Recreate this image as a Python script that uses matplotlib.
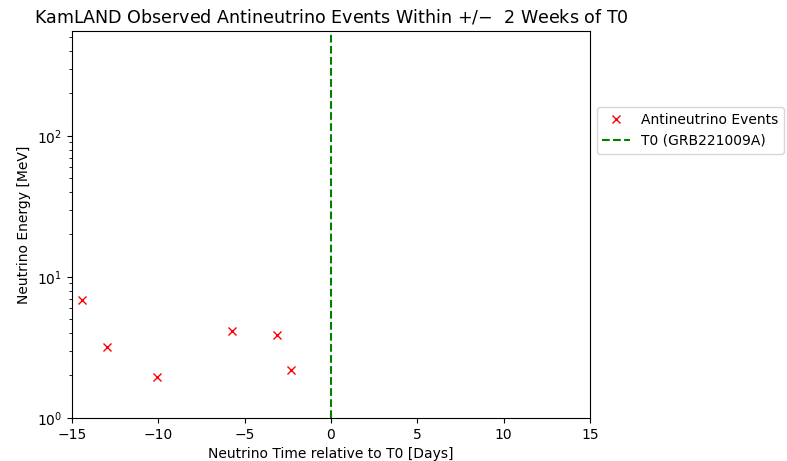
import matplotlib
matplotlib.use("Agg")
import matplotlib.pyplot as plt

# Antineutrino candidate events around T0
event_days = [-14.41, -12.99, -10.05, -5.73, -3.11, -2.34]
event_energy_mev = [6.91, 3.19, 1.94, 4.12, 3.84, 2.17]
t0_day = 0.0

fig = plt.figure(figsize=(7.87, 4.61), dpi=100)
ax = fig.add_axes([0.0915, 0.0935, 0.658, 0.8395])

ax.plot(event_days, event_energy_mev, "x", color="red", markersize=6,
        label="Antineutrino Events")
ax.axvline(t0_day, color="green", linestyle="--", linewidth=1.5,
           label="T0 (GRB221009A)")

ax.set_yscale("log")
ax.set_xlim(-15, 15)
ax.set_ylim(1, 555)
ax.set_xlabel("Neutrino Time relative to T0 [Days]")
ax.set_ylabel("Neutrino Energy [MeV]")
ax.set_title("KamLAND Observed Antineutrino Events Within +/$-$  2 Weeks of T0",
             fontsize=12.6)
ax.legend(loc="upper left", bbox_to_anchor=(1.0, 0.82))

fig.savefig("out.png", dpi=100)
